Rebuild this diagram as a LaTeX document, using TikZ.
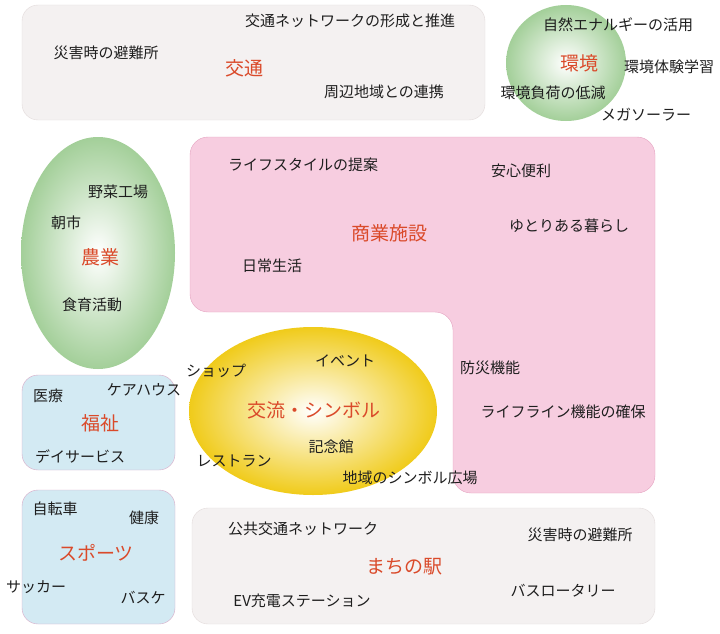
\documentclass[tikz,border=0pt]{standalone}
\usepackage{fontspec}
\newfontfamily\jp{Noto Sans CJK JP}
\definecolor{txt}{HTML}{1E1E1E}
\definecolor{headred}{HTML}{DA4A2A}
\definecolor{grayfill}{HTML}{F4F1F1}
\definecolor{grayline}{HTML}{E2DADA}
\definecolor{pinkfill}{HTML}{F7CDE0}
\definecolor{pinkline}{HTML}{E4A2C0}
\definecolor{bluefill}{HTML}{D3EAF3}
\definecolor{blueline}{HTML}{D8A9C6}
\definecolor{greenedge}{HTML}{A3CF99}
\definecolor{yellowedge}{HTML}{F0CB1A}
\begin{document}
\begin{tikzpicture}[x=1pt, y=-1pt,
    every node/.style={font=\jp\fontsize{15}{16}\selectfont, text=txt, inner sep=0pt},
    head/.style={font=\jp\fontsize{19}{20}\selectfont, text=headred}]
  \useasboundingbox (0,0) rectangle (720,634);

  % areas
  \draw [fill=grayfill, draw=grayline, rounded corners=16] (22,5) rectangle (485,120);
  \draw [fill=grayfill, draw=grayline, rounded corners=16] (192,508) rectangle (655,624);
  \draw [fill=pinkfill, draw=pinkline, rounded corners=18]
    (190,137) -- (655,137) -- (655,493) -- (453,493) -- (453,312) -- (190,312) -- cycle;
  \draw [fill=bluefill, draw=blueline, rounded corners=16] (22,375) rectangle (175,470);
  \draw [fill=bluefill, draw=blueline, rounded corners=16] (22,490) rectangle (175,624);
  \shade [inner color=white, outer color=greenedge] (566,63) ellipse (60 and 58);
  \shade [inner color=white, outer color=greenedge] (98,253) ellipse (77 and 116);
  \shade [inner color=white, outer color=yellowedge] (313,411) ellipse (124 and 84);

  % 交通
  \node (kt1) at (350,21) {交通ネットワークの形成と推進};
  \node (kt2) at (106,53) {災害時の避難所};
  \node [head] (koutsu) at (244,68) {交通};
  \node (kt3) at (384,92) {周辺地域との連携};

  % 環境
  \node (kk1) at (618,25) {自然エナルギーの活用};
  \node [head] (kankyo) at (579,63) {環境};
  \node (kk2) at (669,67) {環境体験学習};
  \node (kk3) at (553,93) {環境負荷の低減};
  \node (kk4) at (646,115) {メガソーラー};

  % 農業
  \node (ng1) at (118,192) {野菜工場};
  \node (ng2) at (66,223) {朝市};
  \node [head] (nougyou) at (100,257) {農業};
  \node (ng3) at (92,305) {食育活動};

  % 商業施設
  \node (ss1) at (303,165) {ライフスタイルの提案};
  \node (ss2) at (521,171) {安心便利};
  \node [head] (shougyou) at (389,233) {商業施設};
  \node (ss3) at (569,226) {ゆとりある暮らし};
  \node (ss4) at (272,266) {日常生活};
  \node (ss5) at (490,368) {防災機能};
  \node (ss6) at (563,412) {ライフライン機能の確保};

  % 福祉
  \node (fk1) at (48,396) {医療};
  \node (fk2) at (144,390) {ケアハウス};
  \node [head] (fukushi) at (100,423) {福祉};
  \node (fk3) at (80,457) {デイサービス};

  % 交流・シンボル
  \node (kr1) at (216,371) {ショップ};
  \node (kr2) at (345,361) {イベント};
  \node [head] (kouryu) at (314,410) {交流・シンボル};
  \node (kr3) at (331,447) {記念館};
  \node (kr4) at (234,461) {レストラン};
  \node (kr5) at (410,478) {地域のシンボル広場};

  % スポーツ
  \node (sp1) at (55,509) {自転車};
  \node (sp2) at (144,518) {健康};
  \node [head] (sports) at (96,553) {スポーツ};
  \node (sp3) at (36,587) {サッカー};
  \node (sp4) at (143,598) {バスケ};

  % まちの駅
  \node (me1) at (303,529) {公共交通ネットワーク};
  \node (me2) at (580,535) {災害時の避難所};
  \node [head] (machi) at (404,567) {まちの駅};
  \node (me3) at (563,591) {バスロータリー};
  \node (me4) at (302,601) {EV充電ステーション};
\end{tikzpicture}
\end{document}
